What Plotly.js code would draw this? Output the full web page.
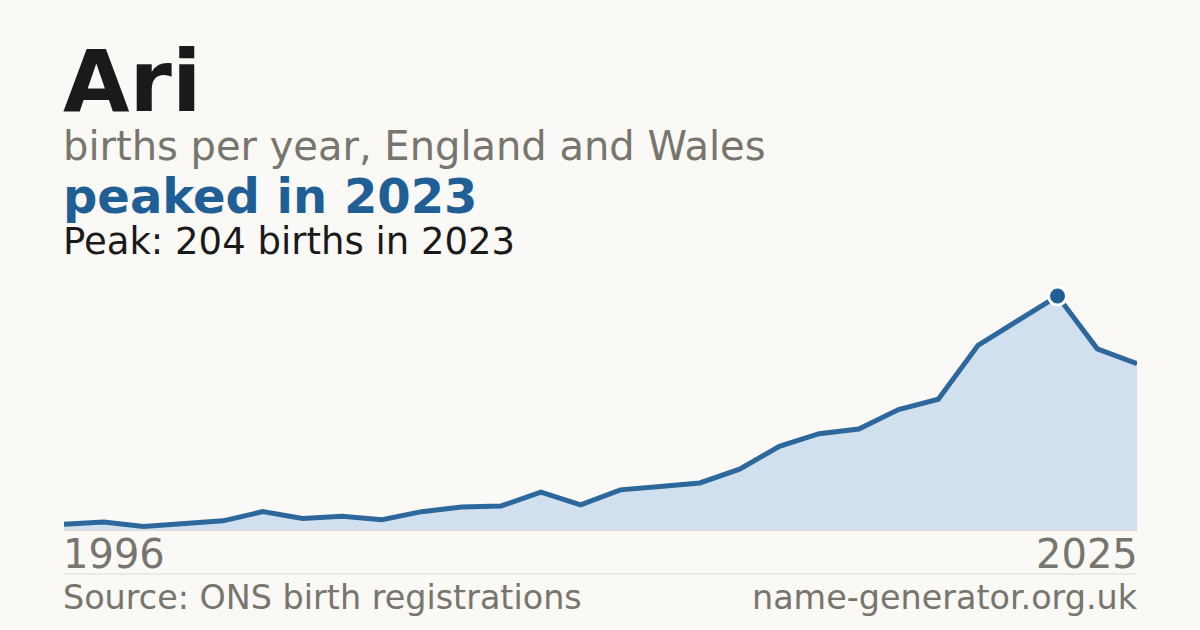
<!DOCTYPE html>
<html>
<head>
<meta charset="utf-8">
<script src="https://cdn.plot.ly/plotly-3.0.1.min.js"></script>
<style>
  html, body { margin: 0; padding: 0; background: #faf9f5; }
  #chart { width: 1200px; height: 630px; }
</style>
</head>
<body>
<div id="chart"></div>
<script>
// Data
const years = ["1996","1998","2000","2001","2002","2003","2004","2005","2006","2007","2008","2009","2010","2011","2012","2013","2014","2015","2016","2017","2018","2019","2020","2021","2022","2023","2024","2025"];
const births = [5, 7, 3, 6, 8, 16, 10, 12, 9, 16, 20, 21, 33, 22, 35, 38, 41, 53, 73, 84, 88, 105, 114, 161, 182, 204, 158, 145];

const nameText = "Ari";
const subtitleText = "births per year, England and Wales";
const sourceText = "Source: ONS birth registrations";
const siteText = "name-generator.org.uk";

let peakIdx = 0;
births.forEach((v, i) => { if (v > births[peakIdx]) peakIdx = i; });
const peakYear = years[peakIdx];
const peakVal = births[peakIdx];

const FONT = "DejaVu Sans, Verdana, sans-serif";
const GREY = "#78746e";
const BLUE = "#1f5f96";
const DARK = "#1a1a1a";

const traces = [
  {
    x: years, y: births, type: "scatter", mode: "lines",
    line: { color: "#2c689b", width: 5, shape: "linear" },
    fill: "tozeroy", fillcolor: "#d0e0ef",
    hoverinfo: "skip"
  },
  {
    x: [peakYear], y: [peakVal], type: "scatter", mode: "markers",
    marker: { symbol: "circle", size: 18, color: BLUE, line: { color: "#ffffff", width: 3 } },
    hoverinfo: "skip"
  }
];

function ann(x, y, text, size, color, anchor) {
  return {
    xref: "paper", yref: "paper", x: x, y: y, xanchor: anchor, yanchor: "middle",
    xshift: anchor === "left" ? -2 : 2, borderpad: 0,
    text: text, showarrow: false,
    font: { family: FONT, size: size, color: color }
  };
}

const layout = {
  width: 1200, height: 630,
  paper_bgcolor: "#faf9f5", plot_bgcolor: "#faf9f5",
  margin: { l: 64, r: 63, t: 270, b: 100 },
  showlegend: false,
  xaxis: {
    type: "category", range: [0, years.length - 1],
    showgrid: false, zeroline: false, showticklabels: false,
    showline: true, linecolor: "#dedbd4", linewidth: 1, ticks: ""
  },
  yaxis: {
    range: [0, 226.7], showgrid: false, zeroline: false,
    showticklabels: false, showline: false, ticks: ""
  },
  shapes: [
    { type: "line", xref: "paper", yref: "paper", x0: 0, x1: 1, y0: -0.1692, y1: -0.1692,
      line: { color: "#dedbd4", width: 1 } }
  ],
  annotations: [
    ann(0, 1.7269, "<b>" + nameText + "</b>", 86, DARK, "left"),
    ann(0, 1.475, subtitleText, 40, GREY, "left"),
    ann(0, 1.2846, "<b>peaked in " + peakYear + "</b>", 48, BLUE, "left"),
    ann(0, 1.1088, "Peak: " + peakVal + " births in " + peakYear, 37, DARK, "left"),
    ann(0, -0.0923, years[0], 40, GREY, "left"),
    ann(1, -0.0923, years[years.length - 1], 40, GREY, "right"),
    ann(0, -0.2577, sourceText, 33.4, GREY, "left"),
    ann(1, -0.2577, siteText, 33.4, GREY, "right")
  ]
};

Plotly.newPlot("chart", traces, layout, { staticPlot: true, displayModeBar: false });
</script>
</body>
</html>
